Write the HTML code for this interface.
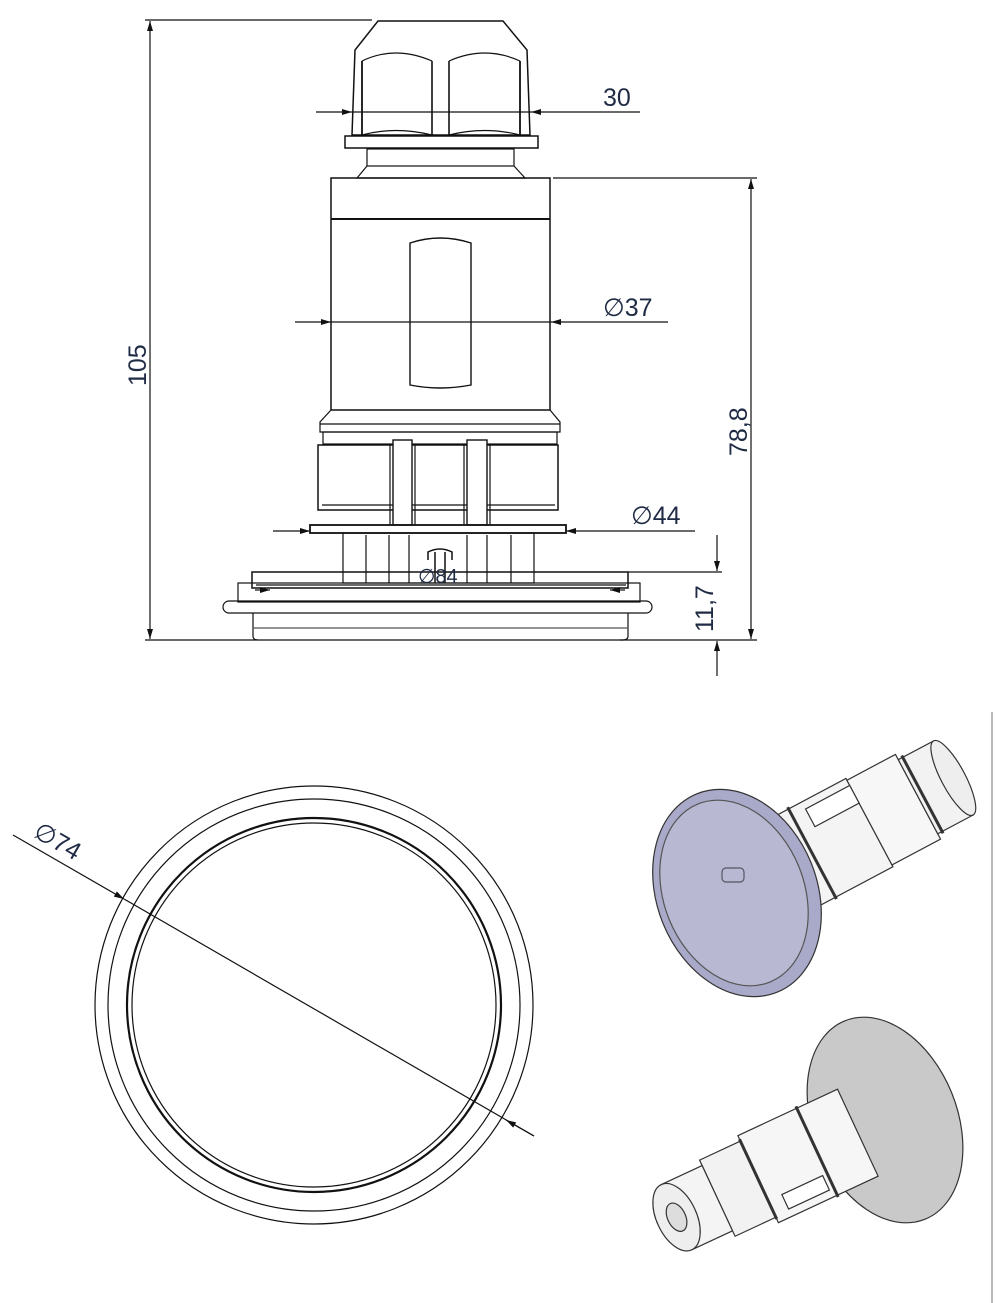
<!DOCTYPE html>
<html><head><meta charset="utf-8"><style>
html,body{margin:0;padding:0;background:#fff;}
svg{display:block;}
text{font-family:"Liberation Sans",sans-serif;fill:#1f2a44;}
</style></head><body>
<svg width="1000" height="1303" viewBox="0 0 1000 1303" xmlns="http://www.w3.org/2000/svg">
<defs>
<marker id="a" viewBox="0 0 10 6" refX="10" refY="3" markerWidth="14" markerHeight="6" markerUnits="userSpaceOnUse" orient="auto"><path d="M0,0 L10,3 L0,6Z" fill="#111"/></marker>
</defs>
<g fill="none" stroke="#111" stroke-width="1.2">
<line x1="145" y1="20" x2="372" y2="20"/>
<line x1="145" y1="640" x2="258" y2="640"/>
<line x1="150" y1="330" x2="150" y2="21" marker-end="url(#a)"/>
<line x1="150" y1="330" x2="150" y2="639" marker-end="url(#a)"/>
<path d="M378,21 L503,21 L527,50 L530,135 L352,135 L355,50 Z" stroke-width="1.5"/>
<path d="M362,61 Q395,45 432,61 M449,61 Q485,45 520,61"/>
<line x1="362" y1="61" x2="362" y2="135" stroke-width="1.8"/>
<line x1="520" y1="61" x2="520" y2="135" stroke-width="1.8"/>
<line x1="432" y1="61" x2="432" y2="135" stroke-width="1.6"/>
<line x1="449" y1="61" x2="449" y2="135" stroke-width="1.6"/>
<path d="M362,135 Q395,126 432,135 M449,135 Q485,126 520,135"/>
<rect x="345" y="136" width="193" height="12" stroke-width="1.5"/>
<rect x="367" y="149" width="147" height="17"/>
<path d="M367,166 L357,178 L525,178 L514,166"/>
<rect x="331" y="178" width="219" height="232" stroke-width="1.5"/>
<line x1="331" y1="219" x2="550" y2="219" stroke-width="2"/>
<path d="M410,243 Q440,233 471,243 L471,385 Q440,391 410,385 Z" stroke-width="1.4"/>
<line x1="316" y1="112" x2="352" y2="112" marker-end="url(#a)"/>
<line x1="640" y1="112" x2="531" y2="112" marker-end="url(#a)"/>
<line x1="352" y1="112" x2="531" y2="112"/>
<line x1="295" y1="322" x2="331" y2="322" marker-end="url(#a)"/>
<line x1="668" y1="322" x2="551" y2="322" marker-end="url(#a)"/>
<line x1="331" y1="322" x2="551" y2="322"/>
<line x1="553" y1="178" x2="757" y2="178"/>
<line x1="751" y1="410" x2="751" y2="179" marker-end="url(#a)"/>
<line x1="751" y1="410" x2="751" y2="639" marker-end="url(#a)"/>
<line x1="620" y1="640" x2="757" y2="640"/>
<path d="M331,410 L320,422 L320,432 L560,432 L560,422 L550,410"/>
<line x1="320" y1="424" x2="560" y2="424"/>
<rect x="323" y="432" width="234" height="12"/>
<rect x="318" y="445" width="240" height="65" stroke-width="1.5"/>
<line x1="322" y1="505" x2="555" y2="505"/>
<rect x="393" y="440" width="19" height="85" fill="#fff" stroke-width="1.4"/>
<rect x="467" y="440" width="20" height="85" fill="#fff" stroke-width="1.4"/>
<line x1="390" y1="445" x2="390" y2="525"/>
<line x1="415" y1="445" x2="415" y2="525"/>
<line x1="464" y1="445" x2="464" y2="525"/>
<line x1="490" y1="445" x2="490" y2="525"/>
<rect x="310" y="525" width="256" height="8" stroke-width="1.8"/>
<line x1="273" y1="531" x2="310" y2="531" marker-end="url(#a)"/>
<line x1="695" y1="531" x2="566" y2="531" marker-end="url(#a)"/>
<rect x="343" y="533" width="191" height="50"/>
<line x1="366" y1="535" x2="366" y2="583"/><line x1="389" y1="535" x2="389" y2="583"/>
<line x1="409" y1="535" x2="409" y2="583"/><line x1="467" y1="535" x2="467" y2="583"/>
<line x1="487" y1="535" x2="487" y2="583"/><line x1="511" y1="535" x2="511" y2="583"/>
<path d="M428,560 L428,552 Q440,546 452,552 L452,560 M435,552 L435,583 M445,552 L445,583" stroke-width="1.5"/>
<rect x="252" y="572" width="376" height="16" stroke-width="1.5"/>
<line x1="256" y1="585" x2="626" y2="585"/>
<line x1="255" y1="590" x2="270" y2="590" marker-end="url(#a)"/>
<line x1="625" y1="590" x2="610" y2="590" marker-end="url(#a)"/>
<rect x="238" y="583" width="402" height="19"/>
<rect x="223" y="601" width="429" height="12" rx="6"/>
<path d="M253,613 L253,636 Q253,640 258,640 L623,640 Q628,640 628,636 L628,613"/>
<line x1="253" y1="628" x2="628" y2="628" stroke="#555"/>
<line x1="628" y1="572" x2="722" y2="572"/>
<line x1="717" y1="535" x2="717" y2="571" marker-end="url(#a)"/>
<line x1="717" y1="676" x2="717" y2="641" marker-end="url(#a)"/>
<circle cx="314" cy="1005" r="219"/>
<circle cx="314" cy="1005" r="206"/>
<circle cx="314" cy="1005" r="187" stroke-width="2.2"/>
<circle cx="314" cy="1005" r="182"/>
<line x1="13" y1="835" x2="124" y2="899" marker-end="url(#a)"/>
<line x1="124" y1="899" x2="534" y2="1136"/>
<line x1="534" y1="1136" x2="506" y2="1120" marker-end="url(#a)"/>
<line x1="992" y1="712" x2="992" y2="1303" stroke="#bbb" stroke-width="2"/>
</g>
<text x="603" y="106" font-size="25">30</text>
<text x="603" y="316" font-size="25">∅37</text>
<text x="631" y="524" font-size="25">∅44</text>
<text x="0" y="0" font-size="25" transform="translate(146,386) rotate(-90)">105</text>
<text x="0" y="0" font-size="25" transform="translate(747,456) rotate(-90)">78,8</text>
<text x="0" y="0" font-size="25" transform="translate(713,632) rotate(-90)">11,7</text>
<text x="418" y="583" font-size="20">∅84</text>
<text x="0" y="0" font-size="25" transform="translate(32,836) rotate(30)">∅74</text>
<g stroke="#333" stroke-width="1.2">
<g transform="translate(737,893) rotate(-28)">
<rect x="40" y="-50" width="110" height="100" fill="#f4f4f4"/>
<rect x="150" y="-48" width="55" height="96" fill="#f7f7f7"/>
<rect x="205" y="-42" width="40" height="84" fill="#f2f2f2"/>
<rect x="100" y="-42" width="50" height="20" fill="#fff"/>
<line x1="85" y1="-52" x2="85" y2="52" stroke-width="3"/>
<line x1="210" y1="-44" x2="210" y2="44" stroke-width="3"/>
<ellipse cx="245" cy="0" rx="12" ry="42" fill="#eee"/>
</g>
<ellipse cx="737" cy="893" rx="80" ry="107" transform="rotate(-22 737 893)" fill="#a9a9c9" stroke="#333"/>
<ellipse cx="734" cy="893" rx="70" ry="96" transform="rotate(-22 734 893)" fill="#b8b8d2" stroke="#555"/>
<rect x="722" y="868" width="22" height="14" rx="4" fill="none" stroke="#556"/>
</g>
<g stroke="#333" stroke-width="1.2">
<ellipse cx="885" cy="1120" rx="72" ry="107" transform="rotate(-22 885 1120)" fill="#c9c9c9"/>
<g transform="translate(885,1120) rotate(155)">
<rect x="30" y="-48" width="110" height="96" fill="#f6f6f6"/>
<rect x="140" y="-42" width="45" height="84" fill="#f2f2f2"/>
<rect x="185" y="-36" width="45" height="72" fill="#f4f4f4"/>
<line x1="75" y1="-50" x2="75" y2="50" stroke-width="3"/>
<line x1="140" y1="-44" x2="140" y2="44" stroke-width="3"/>
<rect x="80" y="-40" width="45" height="16" fill="#fff"/>
<ellipse cx="230" cy="0" rx="20" ry="36" fill="#eee"/>
<ellipse cx="230" cy="0" rx="9" ry="15" fill="#ddd"/>
</g>
</g>
</svg>
</body></html>
